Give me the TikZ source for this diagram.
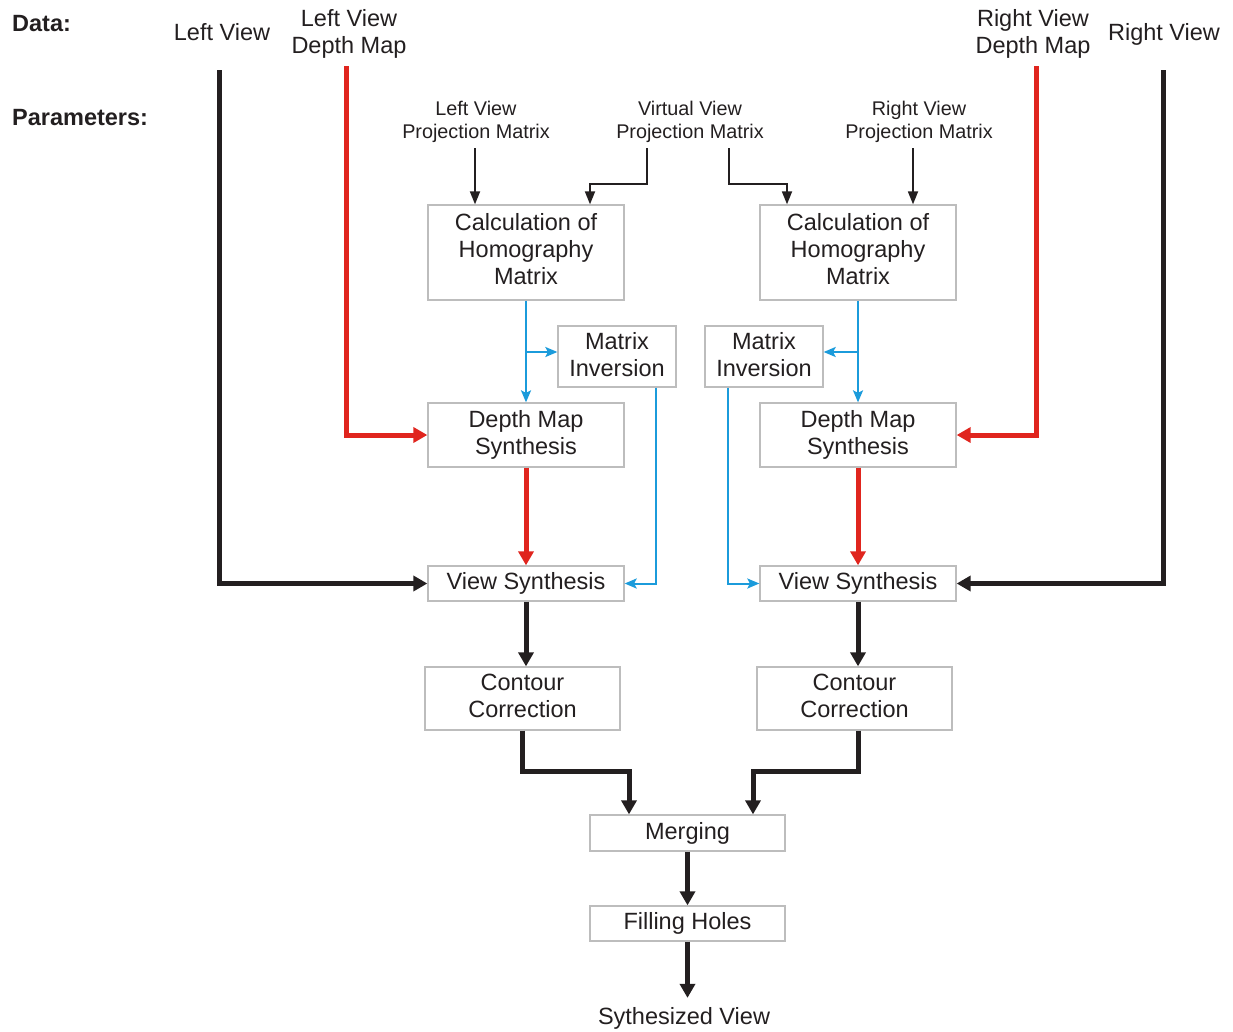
\documentclass[tikz,border=0pt]{standalone}
\usepackage{fontspec}
\setmainfont{Liberation Sans}
\usetikzlibrary{arrows.meta}
\definecolor{ink}{HTML}{231F20}
\definecolor{redline}{HTML}{E0251E}
\definecolor{blueline}{HTML}{1B9BDB}
\definecolor{boxline}{HTML}{BDBDBD}
\tikzset{
  boxnode/.style={draw=boxline, line width=1.3pt, inner sep=0pt, align=center, text=ink,
    font=\fontsize{23.5}{27}\selectfont},
  biglabel/.style={inner sep=0pt, align=center, text=ink, font=\fontsize{23.5}{27}\selectfont},
  smalllabel/.style={inner sep=0pt, align=center, text=ink, font=\fontsize{19.8}{23}\selectfont},
  headlabel/.style={inner sep=0pt, anchor=west, text=ink, font=\fontsize{23.5}{27}\selectfont\bfseries},
  thickblack/.style={draw=ink, line width=5pt, -{Triangle[width=15pt,length=14pt]}},
  thickred/.style={draw=redline, line width=5pt, -{Triangle[width=15pt,length=14pt]}},
  thinblack/.style={draw=ink, line width=1.8pt, -{Triangle[width=10pt,length=13pt]}},
  thinblue/.style={draw=blueline, line width=2pt, -{Stealth[width=10pt,length=12pt,inset=2.5pt]}},
}
\begin{document}
\begin{tikzpicture}[x=1pt,y=-1pt]
\useasboundingbox (0,0) rectangle (1233,1031);
% headings
\node[headlabel] (data) at (12,24) {Data:};
\node[headlabel] (params) at (12,118) {Parameters:};
% data labels
\node[biglabel] (lvlab) at (222,32) {Left View};
\node[biglabel] (ldlab) at (349,34) {Left View\\Depth Map};
\node[biglabel] (rdlab) at (1033,34) {Right View\\Depth Map};
\node[biglabel] (rvlab) at (1164,34) {Right View};
% parameter labels
\node[smalllabel] (lpmlab) at (476,122) {Left View\\Projection Matrix};
\node[smalllabel] (vpmlab) at (690,122) {Virtual View\\Projection Matrix};
\node[smalllabel] (rpmlab) at (919,122) {Right View\\Projection Matrix};
% boxes
\node[boxnode, minimum width=196pt, minimum height=95pt] (calcL) at (526,252.5) {Calculation of\\Homography\\Matrix\\[-19pt]};
\node[boxnode, minimum width=196pt, minimum height=95pt] (calcR) at (858,252.5) {Calculation of\\Homography\\Matrix\\[-19pt]};
\node[boxnode, minimum width=118pt, minimum height=61pt] (miL) at (617,356.5) {Matrix\\Inversion\\[-22pt]};
\node[boxnode, minimum width=118pt, minimum height=61pt] (miR) at (764,356.5) {Matrix\\Inversion\\[-22pt]};
\node[boxnode, minimum width=196pt, minimum height=64pt] (dmsL) at (526,435) {Depth Map\\Synthesis};
\node[boxnode, minimum width=196pt, minimum height=64pt] (dmsR) at (858,435) {Depth Map\\Synthesis};
\node[boxnode, minimum width=196pt, minimum height=35pt] (vsL) at (526,583.5) {View Synthesis};
\node[boxnode, minimum width=196pt, minimum height=35pt] (vsR) at (858,583.5) {View Synthesis};
\node[boxnode, minimum width=195pt, minimum height=63pt] (ccL) at (522.5,698.5) {Contour\\Correction\\[-22pt]};
\node[boxnode, minimum width=195pt, minimum height=63pt] (ccR) at (854.5,698.5) {Contour\\Correction\\[-22pt]};
\node[boxnode, minimum width=195pt, minimum height=36pt] (merge) at (687.5,833) {Merging};
\node[boxnode, minimum width=195pt, minimum height=35pt] (fillh) at (687.5,923.5) {Filling Holes};
\node[biglabel] (out) at (684,1018) {Sythesized View};
% start coordinates
\coordinate (lvtop) at (219,70);
\coordinate (ldtop) at (346,66);
\coordinate (rdtop) at (1036,66);
\coordinate (rvtop) at (1163,70);
\coordinate (lpm) at (475,148);
\coordinate (vpm1) at (647,148);
\coordinate (vpm2) at (729,148);
\coordinate (rpm) at (913,148);
% data connectors
\draw[thickblack] (lvtop) |- (vsL.west);
\draw[thickred] (ldtop) |- (dmsL.west);
\draw[thickred] (rdtop) |- (dmsR.east);
\draw[thickblack] (rvtop) |- (vsR.east);
% parameter connectors
\draw[thinblack] (lpm) -- (lpm |- calcL.north);
\draw[thinblack] (vpm1) -- ++(0,36) -| ([xshift=64pt]calcL.north);
\draw[thinblack] (vpm2) -- ++(0,36) -| ([xshift=-71pt]calcR.north);
\draw[thinblack] (rpm) -- (rpm |- calcR.north);
% blue connectors
\draw[thinblue] (calcL.south) -- (dmsL.north);
\draw[thinblue] (calcL.south |- 0,352) -- ([yshift=4.5pt]miL.west);
\draw[thinblue] ([xshift=39pt]miL.south) |- (vsL.east);
\draw[thinblue] (calcR.south) -- (dmsR.north);
\draw[thinblue] (calcR.south |- 0,352) -- ([yshift=4.5pt]miR.east);
\draw[thinblue] ([xshift=-36pt]miR.south) |- (vsR.west);
% processing chain
\draw[thickred] (dmsL.south) -- (vsL.north);
\draw[thickred] (dmsR.south) -- (vsR.north);
\draw[thickblack] (vsL.south) -- (vsL.south |- ccL.north);
\draw[thickblack] (vsR.south) -- (vsR.south |- ccR.north);
\draw[thickblack] (ccL.south) -- ++(0,41) -| ([xshift=-58.5pt]merge.north);
\draw[thickblack] ([xshift=3.5pt]ccR.south) -- ++(0,41) -| ([xshift=65.5pt]merge.north);
\draw[thickblack] (merge.south) -- (fillh.north);
\draw[thickblack] (fillh.south) -- ([yshift=9pt]fillh.south |- out.north);
\end{tikzpicture}
\end{document}
